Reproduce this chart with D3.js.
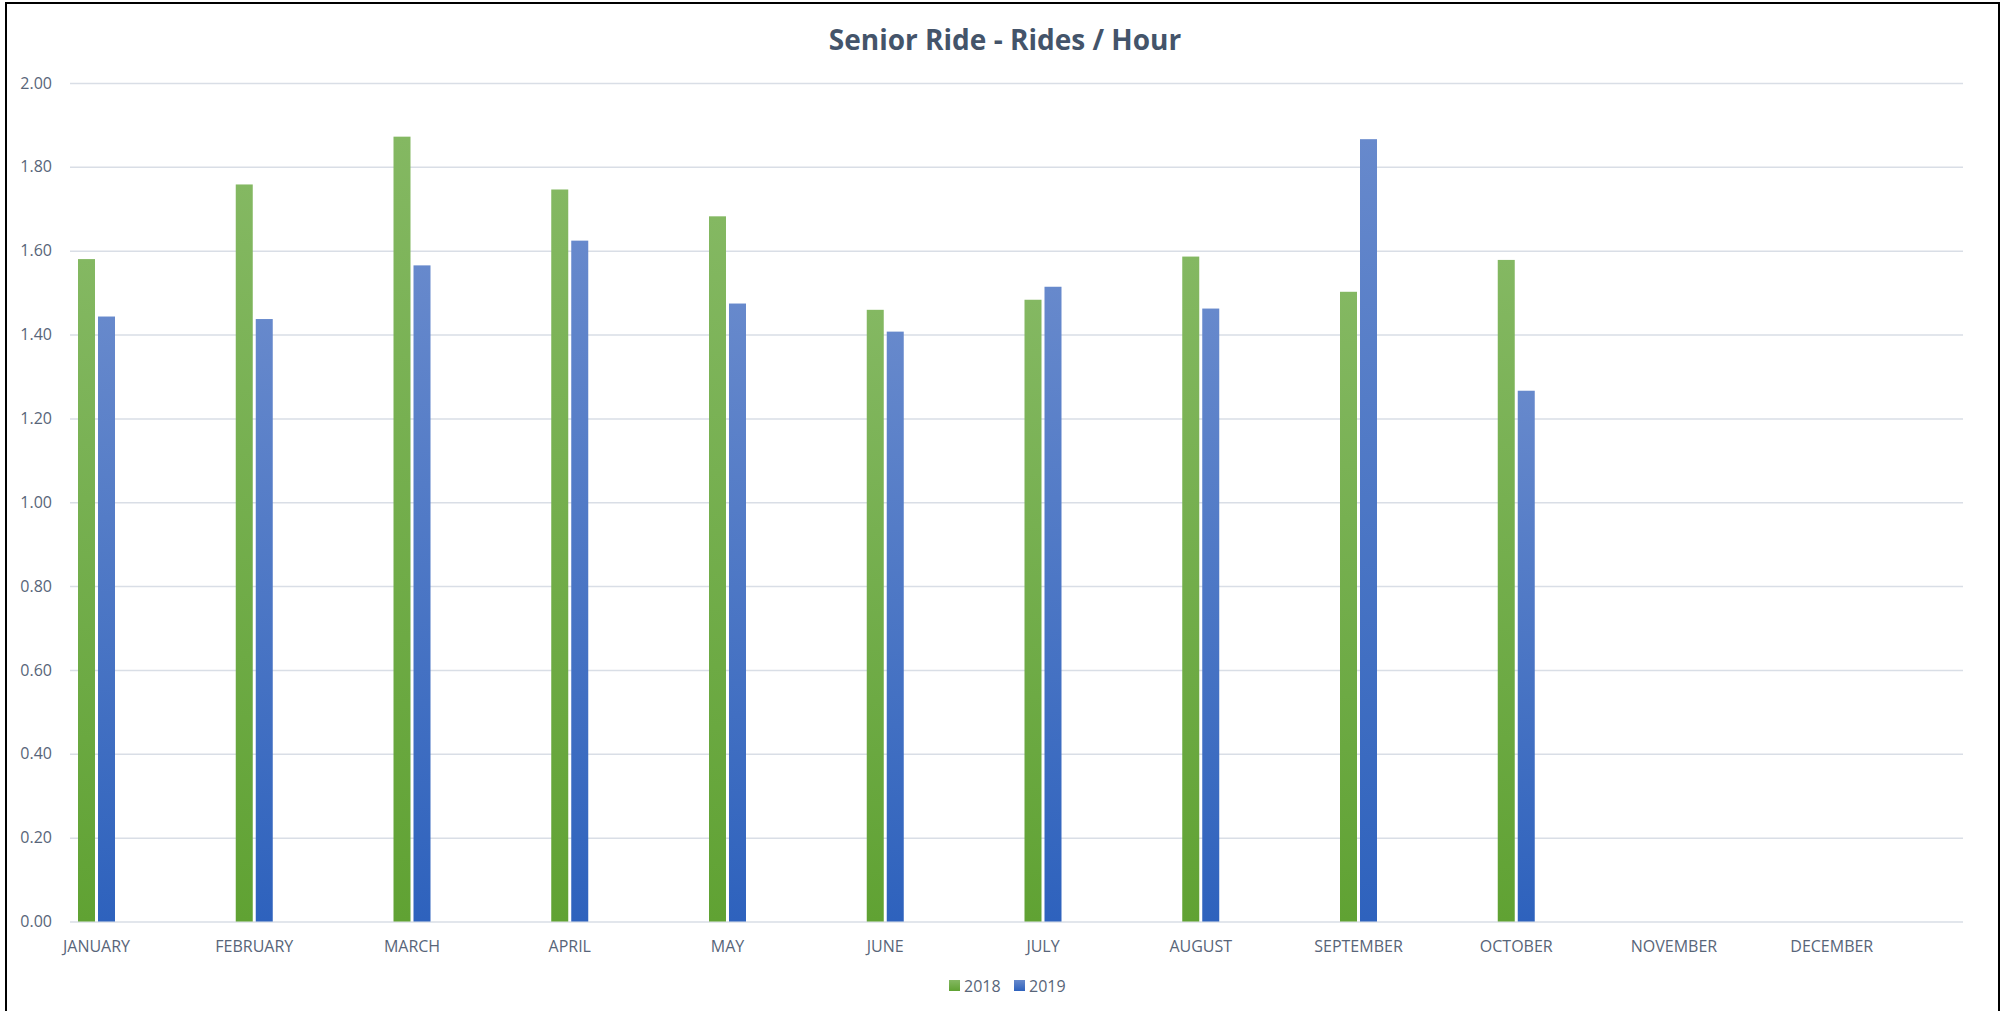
<!DOCTYPE html>
<html>
<head>
<meta charset="utf-8">
<script src="https://cdn.jsdelivr.net/npm/d3@7"></script>
<style>
    body { margin: 0; background: #fff; }
    text { font-family: "Open Sans", sans-serif; }
</style>
</head>
<body>
<div id="chart-area"></div>
<script>
const months = ["JANUARY", "FEBRUARY", "MARCH", "APRIL", "MAY", "JUNE",
    "JULY", "AUGUST", "SEPTEMBER", "OCTOBER", "NOVEMBER", "DECEMBER"];
const seriesNames = ["2018", "2019"];
const rides2018 = [1.58, 1.758, 1.872, 1.746, 1.682, 1.459, 1.483, 1.586, 1.502, 1.578];
const rides2019 = [1.443, 1.437, 1.565, 1.624, 1.474, 1.407, 1.514, 1.462, 1.866, 1.266];
const yTicks = [0, 0.2, 0.4, 0.6, 0.8, 1.0, 1.2, 1.4, 1.6, 1.8, 2.0];

const chartSize = { width: 2008, height: 1011 };
const plot = { left: 70, right: 1963, top: 83, bottom: 921.5 };
const textColor = "#586579";
const gradients = {
    "2018": ["#84b862", "#60a233"],
    "2019": ["#6789cc", "#2e62bd"]
};

const initChart = function () {
    const svg = d3.select("#chart-area")
        .append("svg")
        .attr("width", chartSize.width)
        .attr("height", chartSize.height);

    // bar gradients, lighter on top
    const defs = svg.append("defs");
    seriesNames.forEach(s => {
        const g = defs.append("linearGradient")
            .attr("id", "grad" + s)
            .attr("x1", 0).attr("y1", 0).attr("x2", 0).attr("y2", 1);
        g.append("stop").attr("offset", "0%").attr("stop-color", gradients[s][0]);
        g.append("stop").attr("offset", "100%").attr("stop-color", gradients[s][1]);
    });

    // chart frame
    svg.append("rect")
        .attr("x", 6).attr("y", 3)
        .attr("width", 1993).attr("height", 1020)
        .attr("fill", "none")
        .attr("stroke", "#000")
        .attr("stroke-width", 2);

    svg.append("text")
        .attr("x", 1005)
        .attr("y", 50)
        .attr("text-anchor", "middle")
        .attr("font-size", 28)
        .attr("font-weight", "bold")
        .attr("fill", "#44546a")
        .text("Senior Ride - Rides / Hour");

    return svg;
}

const drawChart = (svg) => {
    const x = d3.scaleBand()
        .domain(months)
        .range([plot.left, plot.right]);

    // bars sit in the left part of each month slot
    const xSeries = d3.scaleBand()
        .domain(seriesNames)
        .range([8, 45])
        .paddingInner(0.15);

    const y = d3.scaleLinear()
        .domain([0, 2])
        .range([plot.bottom, plot.top]);

    const yAxis = d3.axisLeft(y)
        .tickValues(yTicks)
        .tickSize(-(plot.right - plot.left))
        .tickPadding(18)
        .tickFormat(d3.format(".2f"));

    const yAxisGroup = svg.append("g")
        .attr("class", "y axis")
        .attr("transform", `translate(${plot.left}, 0)`)
        .call(yAxis);
    yAxisGroup.select(".domain").remove();
    yAxisGroup.selectAll(".tick line")
        .attr("stroke", "#d9dee6")
        .attr("stroke-width", 1.5);
    yAxisGroup.selectAll(".tick text")
        .attr("font-size", 16)
        .attr("fill", textColor);

    const xAxis = d3.axisBottom(x).tickSize(0).tickPadding(0);
    const xAxisGroup = svg.append("g")
        .attr("class", "x axis")
        .attr("transform", `translate(0, ${plot.bottom})`)
        .call(xAxis);
    xAxisGroup.select(".domain").remove();
    xAxisGroup.selectAll(".tick")
        .attr("transform", d => `translate(${x(d) + 26.5}, 0)`);
    xAxisGroup.selectAll(".tick text")
        .attr("dy", null)
        .attr("y", 30)
        .attr("font-size", 16)
        .attr("fill", textColor);

    const rows = [];
    seriesNames.forEach((s, si) => {
        const vals = si === 0 ? rides2018 : rides2019;
        vals.forEach((v, i) => rows.push({ series: s, month: months[i], value: v }));
    });

    svg.append("g").attr("class", "bars")
        .selectAll("rect")
        .data(rows)
        .join("rect")
        .attr("x", d => x(d.month) + xSeries(d.series))
        .attr("y", d => y(d.value))
        .attr("width", xSeries.bandwidth())
        .attr("height", d => y(0) - y(d.value))
        .attr("fill", d => `url(#grad${d.series})`);

    // legend
    const legend = svg.append("g").attr("class", "legend")
        .attr("transform", "translate(949, 980)");
    const legendItems = legend.selectAll("g")
        .data(seriesNames)
        .join("g")
        .attr("transform", (d, i) => `translate(${i * 65}, 0)`);
    legendItems.append("rect")
        .attr("width", 11).attr("height", 11)
        .attr("fill", d => `url(#grad${d})`);
    legendItems.append("text")
        .attr("x", 15).attr("y", 12)
        .attr("font-size", 16)
        .attr("fill", textColor)
        .text(d => d);
}

const main = () => {
    const svg = initChart();
    drawChart(svg);
}

window.onload = main;
</script>
</body>
</html>
